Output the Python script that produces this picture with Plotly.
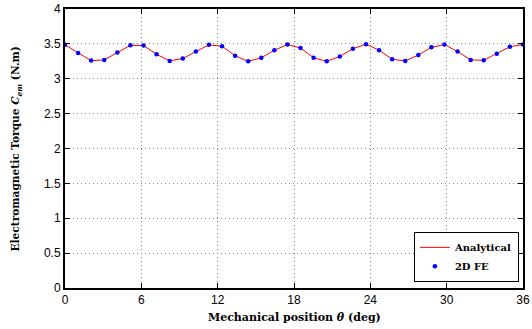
import plotly.graph_objects as go

theta_deg = [0, 1.029, 2.057, 3.086, 4.114, 5.143, 6.171, 7.2, 8.229, 9.257, 10.286, 11.314,
             12.343, 13.371, 14.4, 15.429, 16.457, 17.486, 18.514, 19.543, 20.571, 21.6, 22.629,
             23.657, 24.686, 25.714, 26.743, 27.771, 28.8, 29.829, 30.857, 31.886, 32.914,
             33.943, 34.971, 36]

torque_fe = [3.486, 3.37, 3.26, 3.27, 3.375, 3.48, 3.476, 3.35, 3.255, 3.29, 3.39, 3.486,
             3.466, 3.33, 3.25, 3.30, 3.41, 3.49, 3.44, 3.30, 3.25, 3.32, 3.43, 3.495,
             3.41, 3.28, 3.255, 3.34, 3.45, 3.49, 3.39, 3.27, 3.265, 3.36, 3.46, 3.49]

torque_analytical = [3.486, 3.37, 3.26, 3.27, 3.375, 3.48, 3.476, 3.35, 3.255, 3.29, 3.39, 3.486,
                     3.466, 3.33, 3.25, 3.30, 3.41, 3.49, 3.44, 3.30, 3.25, 3.32, 3.43, 3.495,
                     3.41, 3.28, 3.255, 3.34, 3.45, 3.49, 3.39, 3.27, 3.265, 3.36, 3.46, 3.49]

x_ticks = [0, 6, 12, 18, 24, 30, 36]
y_ticks = [0, 0.5, 1, 1.5, 2, 2.5, 3, 3.5, 4]
y_tick_labels = ["0", "0.5", "1", "1.5", "2", "2.5", "3", "3.5", "4"]

x_title = "Mechanical position <i>θ</i> (deg)"
y_title = "Electromagnetic Torque <i>C</i><sub><i>em</i></sub> (N.m)"

serif = "DejaVu Serif"
sans = "Liberation Sans"

fig = go.Figure()
fig.add_trace(go.Scatter(x=theta_deg, y=torque_analytical, mode="lines", name="Analytical",
                         line=dict(color="#ff0000", width=1)))
fig.add_trace(go.Scatter(x=theta_deg, y=torque_fe, mode="markers", name="2D FE",
                         marker=dict(color="#0000ff", size=4.5)))

axis_common = dict(
    showline=True, linecolor="black", linewidth=2, mirror="ticks",
    ticks="inside", ticklen=5, tickwidth=1, tickcolor="black",
    showgrid=True, gridcolor="#888888", griddash="1px,3px", gridwidth=1,
    zeroline=False, automargin=False,
    tickfont=dict(family=sans, size=12, color="black"),
)

title_font = dict(family=serif, size=11, color="black", weight="bold")

fig.update_layout(
    width=532, height=329,
    margin=dict(l=65, r=9, t=9, b=41),
    paper_bgcolor="white", plot_bgcolor="white",
    showlegend=True,
    legend=dict(x=0.991, y=0.022, xanchor="right", yanchor="bottom",
                bgcolor="white", bordercolor="black", borderwidth=1,
                font=dict(family=serif, size=10, color="black", weight="bold"),
                itemwidth=30, tracegroupgap=0),
    xaxis=dict(range=[0, 36], tickvals=x_ticks, **axis_common),
    yaxis=dict(range=[0, 4], tickvals=y_ticks, ticktext=y_tick_labels, **axis_common),
    annotations=[
        dict(text=x_title, xref="paper", yref="paper", x=0.5, y=-0.104,
             xanchor="center", yanchor="middle", showarrow=False, font=title_font),
        dict(text=y_title, xref="paper", yref="paper", x=-0.107, y=0.5,
             xanchor="center", yanchor="middle", textangle=-90, showarrow=False,
             font=dict(family=serif, size=10.6, color="black", weight="bold")),
    ],
)

fig.write_html("out.html", config={"displayModeBar": False},
               post_script="document.body.style.margin='0';")
